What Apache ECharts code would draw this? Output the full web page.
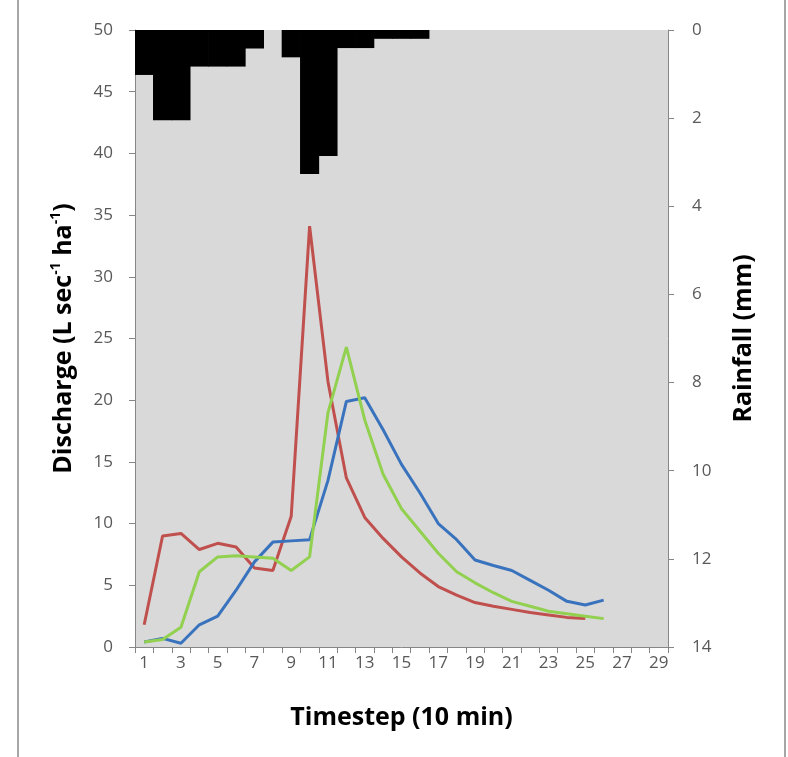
<!DOCTYPE html>
<html>
<head>
<meta charset="utf-8">
<script src="https://cdn.jsdelivr.net/npm/echarts@6/dist/echarts.min.js"></script>
<style>
html,body{margin:0;padding:0;background:#fff;}
#chart{width:788px;height:757px;}
</style>
</head>
<body>
<div id="chart"></div>
<script>
var timesteps = ['1','2','3','4','5','6','7','8','9','10','11','12','13','14','15','16','17','18','19','20','21','22','23','24','25','26','27','28','29'];
var rainfall = [1.02, 2.05, 2.05, 0.83, 0.83, 0.83, 0.42, 0, 0.62, 3.27, 2.86, 0.41, 0.41, 0.2, 0.2, 0.2];
var redQ = [1.8, 9.0, 9.2, 7.9, 8.4, 8.1, 6.4, 6.2, 10.6, 34.1, 21.5, 13.7, 10.5, 8.8, 7.3, 6.0, 4.9, 4.2, 3.6, 3.3, 3.05, 2.8, 2.6, 2.4, 2.3];
var blueQ = [0.4, 0.7, 0.3, 1.8, 2.5, 4.6, 6.9, 8.5, 8.6, 8.7, 13.5, 19.9, 20.2, 17.6, 14.8, 12.5, 10.0, 8.7, 7.05, 6.6, 6.2, 5.4, 4.6, 3.7, 3.4, 3.8];
var greenQ = [0.4, 0.6, 1.6, 6.1, 7.3, 7.4, 7.3, 7.2, 6.2, 7.3, 19.0, 24.3, 18.4, 14.0, 11.2, 9.4, 7.6, 6.1, 5.2, 4.4, 3.7, 3.3, 2.9, 2.7, 2.5, 2.3];

var FONT = 'Open Sans';
var chart = echarts.init(document.getElementById('chart'), null, {renderer:'canvas'});
var axisLineStyle = {color:'#868686', width:1};
chart.setOption({
  animation:false,
  backgroundColor:'#ffffff',
  textStyle:{fontFamily:FONT},
  graphic:[
    {type:'line', shape:{x1:18,y1:0,x2:18,y2:757}, style:{stroke:'#a6a6a6', lineWidth:2}},
    {type:'line', shape:{x1:785,y1:0,x2:785,y2:757}, style:{stroke:'#a6a6a6', lineWidth:2}}
  ],
  grid:{left:135, right:120, top:30, bottom:110, show:true, backgroundColor:'#d9d9d9', borderWidth:0},
  xAxis:{
    type:'category', data:timesteps, boundaryGap:true,
    name:'Timestep (10 min)', nameLocation:'middle', nameGap:58,
    nameTextStyle:{fontSize:25, fontWeight:'bold', color:'#000', fontFamily:FONT},
    axisLine:{lineStyle:axisLineStyle},
    axisTick:{show:true, interval:0, length:6, lineStyle:axisLineStyle},
    axisLabel:{interval:1, fontSize:17, color:'#595959', margin:8, fontFamily:FONT},
    splitLine:{show:false}
  },
  yAxis:[
    {
      type:'value', min:0, max:50, interval:5, position:'left',
      name:'{a|Discharge (L sec}{s|-1}{a| ha}{s|-1}{a|)}',
      nameLocation:'middle', nameGap:56, nameRotate:90,
      nameTextStyle:{fontFamily:FONT, color:'#000', rich:{
        a:{fontSize:25, fontWeight:'bold', color:'#000', fontFamily:FONT, lineHeight:30},
        s:{fontSize:14, fontWeight:'bold', color:'#000', fontFamily:FONT, verticalAlign:'top', lineHeight:30}
      }},
      axisLine:{show:true, lineStyle:axisLineStyle},
      axisTick:{show:true, length:6, lineStyle:axisLineStyle},
      axisLabel:{fontSize:17, color:'#595959', margin:22, fontFamily:FONT},
      splitLine:{show:false}
    },
    {
      type:'value', min:0, max:14, interval:2, inverse:true, position:'right',
      name:'Rainfall (mm)', nameLocation:'middle', nameGap:63, nameRotate:90,
      nameTextStyle:{fontSize:25, fontWeight:'bold', color:'#000', fontFamily:FONT},
      axisLine:{show:true, lineStyle:axisLineStyle},
      axisTick:{show:true, length:6, lineStyle:axisLineStyle},
      axisLabel:{fontSize:17, color:'#595959', margin:24, fontFamily:FONT},
      splitLine:{show:false}
    }
  ],
  series:[
    {type:'bar', yAxisIndex:1, data:rainfall, barWidth:'104%', barGap:'-100%', itemStyle:{color:'#000000'}, silent:true},
    {type:'line', yAxisIndex:0, data:redQ, showSymbol:false, symbol:'none', lineStyle:{color:'#c0504d', width:3}},
    {type:'line', yAxisIndex:0, data:blueQ, showSymbol:false, symbol:'none', lineStyle:{color:'#3a73bd', width:3}},
    {type:'line', yAxisIndex:0, data:greenQ, showSymbol:false, symbol:'none', lineStyle:{color:'#92d050', width:3}}
  ]
});
</script>
</body>
</html>
